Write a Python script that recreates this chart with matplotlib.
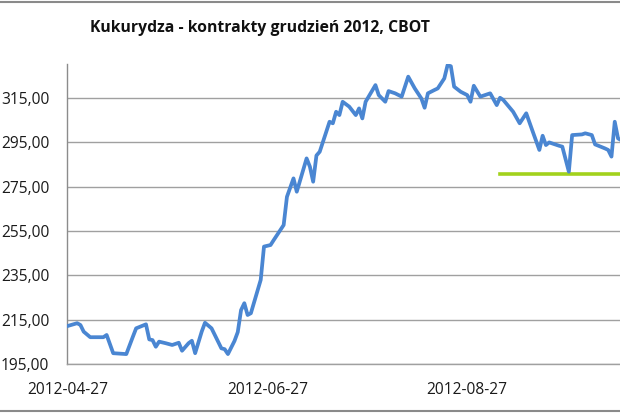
import matplotlib
matplotlib.use("Agg")
import matplotlib.pyplot as plt
from matplotlib.lines import Line2D
import pandas as pd

title = "Kukurydza - kontrakty grudzień 2012, CBOT"

dates = [
    "2012-04-27", "2012-04-30", "2012-05-01", "2012-05-02", "2012-05-04", "2012-05-08",
    "2012-05-09", "2012-05-11", "2012-05-15", "2012-05-17", "2012-05-18", "2012-05-21",
    "2012-05-22", "2012-05-23", "2012-05-24", "2012-05-25", "2012-05-27", "2012-05-29",
    "2012-05-31", "2012-06-01", "2012-06-03", "2012-06-04", "2012-06-05", "2012-06-07",
    "2012-06-08", "2012-06-10", "2012-06-13", "2012-06-14", "2012-06-15", "2012-06-17",
    "2012-06-18", "2012-06-19", "2012-06-20", "2012-06-21", "2012-06-22", "2012-06-25",
    "2012-06-26", "2012-06-28", "2012-06-29", "2012-07-02", "2012-07-03", "2012-07-05",
    "2012-07-06", "2012-07-09", "2012-07-10", "2012-07-11", "2012-07-12", "2012-07-13",
    "2012-07-16", "2012-07-17", "2012-07-18", "2012-07-19", "2012-07-20", "2012-07-22",
    "2012-07-24", "2012-07-25", "2012-07-26", "2012-07-27", "2012-07-30", "2012-07-31",
    "2012-08-02", "2012-08-03", "2012-08-05", "2012-08-07", "2012-08-09", "2012-08-11",
    "2012-08-13", "2012-08-14", "2012-08-15", "2012-08-17", "2012-08-18", "2012-08-20",
    "2012-08-21", "2012-08-22", "2012-08-23", "2012-08-25", "2012-08-27", "2012-08-28",
    "2012-08-29", "2012-08-31", "2012-09-03", "2012-09-05", "2012-09-06", "2012-09-07",
    "2012-09-10", "2012-09-12", "2012-09-14", "2012-09-16", "2012-09-18", "2012-09-19",
    "2012-09-20", "2012-09-21", "2012-09-24", "2012-09-25", "2012-09-27", "2012-09-28",
    "2012-10-01", "2012-10-02", "2012-10-04", "2012-10-05", "2012-10-08", "2012-10-09",
    "2012-10-10", "2012-10-11", "2012-10-12", "2012-10-14",
]
prices = [
    212.2, 213.5, 212.7, 209.7, 207.2, 207.2,
    208.2, 200.0, 199.6, 207.4, 211.2, 213.0,
    206.2, 205.9, 202.9, 205.2, 204.5, 203.7,
    204.7, 201.1, 204.5, 205.6, 200.0, 209.7,
    213.7, 211.2, 202.2, 201.8, 199.6, 205.5,
    209.5, 219.4, 222.5, 217.2, 218.0, 233.0,
    248.0, 248.7, 251.0, 257.7, 270.4, 278.7,
    272.7, 287.7, 284.0, 277.2, 289.0, 290.7,
    304.2, 303.5, 308.7, 307.2, 313.2, 311.0,
    307.2, 310.2, 305.7, 313.2, 320.7, 316.2,
    313.2, 318.0, 317.0, 315.5, 324.5, 319.2,
    314.7, 310.5, 317.0, 318.5, 319.2, 323.7,
    329.7, 329.2, 320.0, 317.7, 316.2, 313.2,
    320.4, 315.5, 317.0, 311.7, 315.0, 314.0,
    308.7, 303.5, 308.0, 299.7, 291.5, 297.9,
    293.7, 294.9, 293.4, 293.0, 281.7, 298.2,
    298.5, 299.0, 298.2, 294.0, 292.2, 291.5,
    288.5, 304.2, 296.7, 295.0,
]

support_dates = ["2012-09-06", "2012-10-20"]
support_level = [280.7, 280.7]

y_ticks = [195, 215, 235, 255, 275, 295, 315]
x_tick_dates = ["2012-04-27", "2012-06-27", "2012-08-27"]
x_start = "2012-04-27"
x_end_days = 168.6
y_min, y_max = 195, 330.2

fig = plt.figure(figsize=(6.2, 4.13), dpi=100)
ax = fig.add_axes([67.3 / 620, 48.7 / 413, 1 - 67.3 / 620, 300.3 / 413])

d = pd.to_datetime(dates)
ax.plot(d, prices, color="#4a86d2", lw=2.7, solid_joinstyle="round",
        solid_capstyle="round", zorder=3)
ax.plot(pd.to_datetime(support_dates), support_level, color="#a2d21c", lw=2.6, zorder=2)

x0 = pd.Timestamp(x_start)
ax.set_xlim(x0, x0 + pd.Timedelta(days=x_end_days))
ax.set_ylim(y_min, y_max)

ax.set_yticks(y_ticks)
ax.set_yticklabels([f"{v:.2f}".replace(".", ",") for v in y_ticks])
ax.set_xticks(pd.to_datetime(x_tick_dates))
ax.set_xticklabels(x_tick_dates)

ax.grid(axis="y", color="#a0a0a0", lw=1.0)
ax.set_axisbelow(True)
for s in ["top", "right"]:
    ax.spines[s].set_visible(False)
ax.spines["left"].set_color("#8c8c8c")
ax.spines["bottom"].set_color("#a0a0a0")
ax.spines["left"].set_linewidth(1.0)
ax.spines["bottom"].set_linewidth(1.0)
ax.tick_params(axis="both", length=0, labelsize=11.2, labelcolor="#1a1a1a")
ax.tick_params(axis="y", pad=13)
ax.tick_params(axis="x", pad=13)
for lab in ax.get_xticklabels() + ax.get_yticklabels():
    lab.set_fontfamily("Open Sans")

fig.text(260 / 620, 1 - 28 / 413, title, ha="center", va="center",
         fontsize=11.3, fontweight="bold", family="Open Sans", color="#111111")

fig.add_artist(Line2D([0, 1], [1 - 1.5 / 413, 1 - 1.5 / 413], transform=fig.transFigure,
                      color="#8a8a8a", lw=1.5))
fig.add_artist(Line2D([0, 1], [2 / 413, 2 / 413], transform=fig.transFigure,
                      color="#8a8a8a", lw=1.5))

fig.savefig("out.png", dpi=100)
